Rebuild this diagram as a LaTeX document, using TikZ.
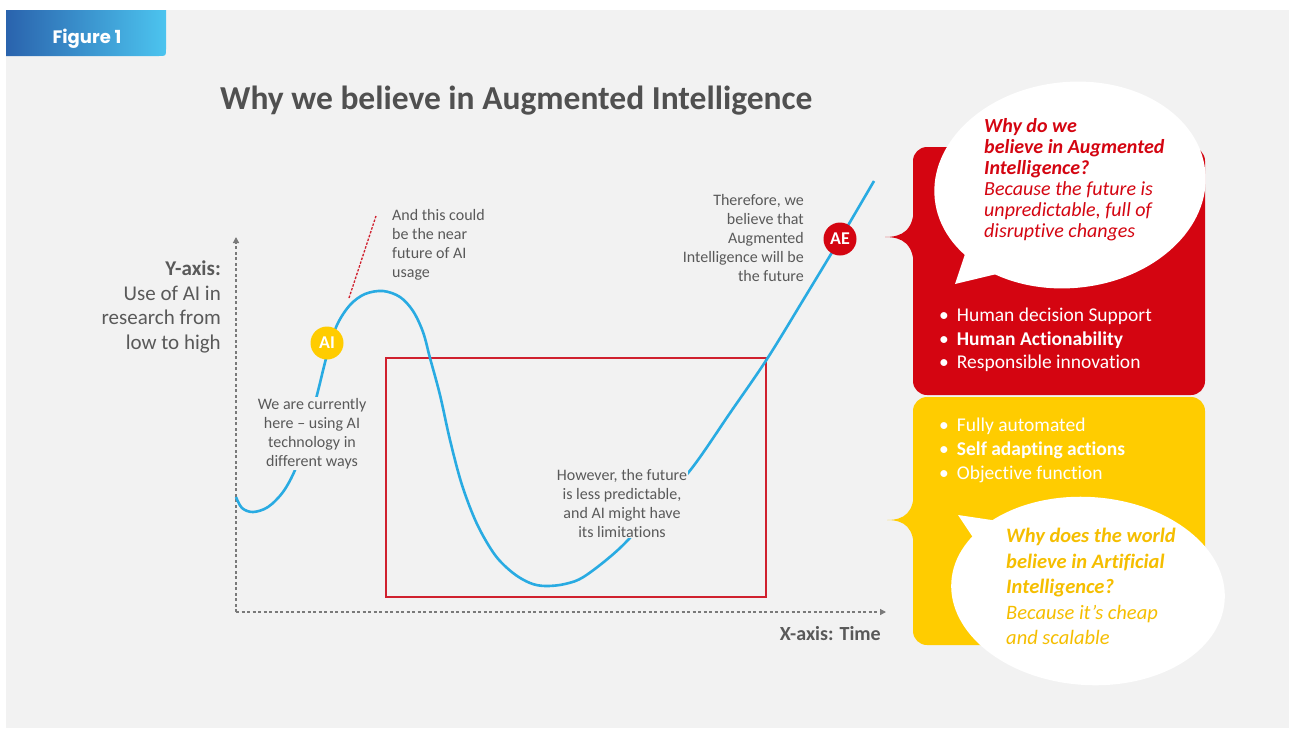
\documentclass[tikz,border=0pt]{standalone}
\usepackage{fontspec}
\setmainfont{Carlito}[Ligatures={TeX,NoCommon}]
\newfontfamily\figfont{Poppins}
\usetikzlibrary{shapes.geometric,arrows.meta}

\definecolor{bggray}{HTML}{F2F2F2}
\definecolor{textgray}{HTML}{595959}
\definecolor{titlegray}{HTML}{505050}
\definecolor{axisgray}{HTML}{7A7A7A}
\definecolor{curveblue}{HTML}{29ABE2}
\definecolor{dhlred}{HTML}{D40511}
\definecolor{boxred}{HTML}{D0202E}
\definecolor{dhlyellow}{HTML}{FFCC00}
\definecolor{bubbleyellow}{HTML}{F5BE00}
\definecolor{figblueA}{HTML}{2A63AD}
\definecolor{figblueB}{HTML}{4CC4EF}

\begin{document}
\begin{tikzpicture}[x=1pt, y=-1pt,
        note/.style={text=textgray, font=\fontsize{16}{19}\selectfont, inner sep=1pt},
        axislabel/.style={text=textgray, font=\fontsize{21}{24.5}\selectfont, align=right, inner sep=0pt},
        axisline/.style={draw=axisgray, line width=1.3pt, dash pattern=on 3pt off 2.5pt, -{Triangle[length=6pt,width=6pt]}},
        curve/.style={draw=curveblue, line width=2.6pt},
        marker/.style={circle, minimum size=33pt, inner sep=0pt, text=white, font=\fontsize{18}{18}\selectfont\bfseries},
        bullets/.style={text=white, align=left, inner sep=0pt, anchor=north west},
        bubble/.style={ellipse, fill=white, inner sep=0pt},
        bubbletext/.style={align=left, inner sep=0pt, anchor=north west}]

        % Define background
        \useasboundingbox (0,0) rectangle (1289,728);
        \fill[white] (0,0) rectangle (1289,728);
        \fill[bggray] (6,10) rectangle (1289,728);
        \shade[left color=figblueA, right color=figblueB] (6,10) -- (166,10) -- (166,49) .. controls (166,56) .. (159,56) -- (6,56) -- cycle;
        \node[anchor=base, text=white, font=\figfont\fontsize{18}{18}\selectfont\bfseries] (figlabel) at (87,43) {Figure 1};

        % Define title
        \node[anchor=base west, text=titlegray, font=\fontsize{33.5}{33.5}\selectfont\bfseries, inner sep=0pt] (title) at (220,109) {Why we believe in Augmented Intelligence};

        % Define axes
        \coordinate (origin) at (236,612);
        \coordinate (ytop) at (236,237);
        \coordinate (xend) at (886,612);
        \draw[axisline] (origin) -- (ytop);
        \draw[axisline] (origin) -- (xend);
        \node[axislabel, anchor=north east] (ylabel) at (221,261) {\textbf{Y-axis:}\\Use of AI in\\research from\\low to high};
        \node[anchor=east, text=textgray, font=\fontsize{20}{20}\selectfont\bfseries, inner sep=0pt] (xlabel) at (881,634) {X-axis: Time};

        % Define limitation box
        \draw[boxred, line width=2.5pt] (386,358) rectangle (766,597);

        % Define curve
        \draw[curve] plot[smooth, tension=0.55] coordinates {(236,497) (242,508) (253,512) (268,507) (283,492) (295,470) (305,440) (317,395) (327,355) (337,325) (350,305) (365,294) (383,291) (400,297) (413,311) (423,332) (430,358) (440,395) (450,440) (462,485) (477,524) (495,555) (513,573) (530,583) (545,586) (565,584) (585,576) (620,548) (655,510) (692,468) (730,413) (767,359) (805,297) (840,239) (874,181)};
        \coordinate (peakpt) at (349,298);
        \coordinate (nearpt) at (376,216);
        \draw[boxred, line width=1.3pt, dash pattern=on 2.5pt off 1.5pt] (peakpt) -- (nearpt);

        % Define notes
        \node[note, anchor=north west, align=left] (neartext) at (391,208) {And this could\\be the near\\future of AI\\usage};
        \node[note, anchor=north, align=center, fill=bggray] (nowtext) at (312,397) {We are currently\\here -- using AI\\technology in\\different ways};
        \node[note, anchor=north, align=center, fill=bggray] (limtext) at (622,468) {However, the future\\is less predictable,\\and AI might have\\its limitations};
        \node[note, anchor=north east, align=right] (futuretext) at (805,193) {Therefore, we\\believe that\\Augmented\\Intelligence will be\\the future};

        % Define markers
        \node[marker, fill=dhlyellow] (ai) at (327,343) {AI};
        \node[marker, fill=dhlred] (ae) at (840,239) {AE};

        % Define red panel
        \fill[dhlred, rounded corners=14pt] (913,147) rectangle (1205,395);
        \fill[dhlred] (914,205) .. controls (914,230) and (903,237) .. (885,237) .. controls (903,237) and (914,244) .. (914,269) -- cycle;
        \node[bubble, minimum width=272pt, minimum height=206pt, rotate=6] (redbubble) at (1070,185) {};
        \fill[white] (955,284) -- (968,245) -- (1005,272) -- cycle;
        \node[bubbletext, text=dhlred, font=\fontsize{20}{21}\selectfont\itshape] (redq) at (984,118) {\textbf{Why do we}\\\textbf{believe in Augmented}\\\textbf{Intelligence?}\\Because the future is\\unpredictable, full of\\disruptive changes};
        \node[bullets, font=\fontsize{19.5}{23.5}\selectfont] (redlist) at (939,308) {\textbullet\hspace{8pt}Human decision Support\\\textbullet\hspace{8pt}\textbf{Human Actionability}\\\textbullet\hspace{8pt}Responsible innovation};

        % Define yellow panel
        \fill[dhlyellow, rounded corners=14pt] (913,397) rectangle (1205,645);
        \fill[dhlyellow] (914,490) .. controls (914,512) and (905,520) .. (887,520) .. controls (905,520) and (914,528) .. (914,550) -- cycle;
        \node[bubble, minimum width=274pt, minimum height=188pt, rotate=-4] (yellowbubble) at (1088,591) {};
        \fill[white] (958,515) -- (1005,522) -- (978,545) -- cycle;
        \node[bullets, font=\fontsize{19.5}{24}\selectfont] (yellowlist) at (939,418) {\textbullet\hspace{8pt}Fully automated\\\textbullet\hspace{8pt}\textbf{Self adapting actions}\\\textbullet\hspace{8pt}Objective function};
        \node[bubbletext, text=bubbleyellow, font=\fontsize{20.5}{25.5}\selectfont\itshape] (yellowq) at (1006,528) {\textbf{Why does the world}\\\textbf{believe in Artificial}\\\textbf{Intelligence?}\\Because it’s cheap\\and scalable};
\end{tikzpicture}
\end{document}
